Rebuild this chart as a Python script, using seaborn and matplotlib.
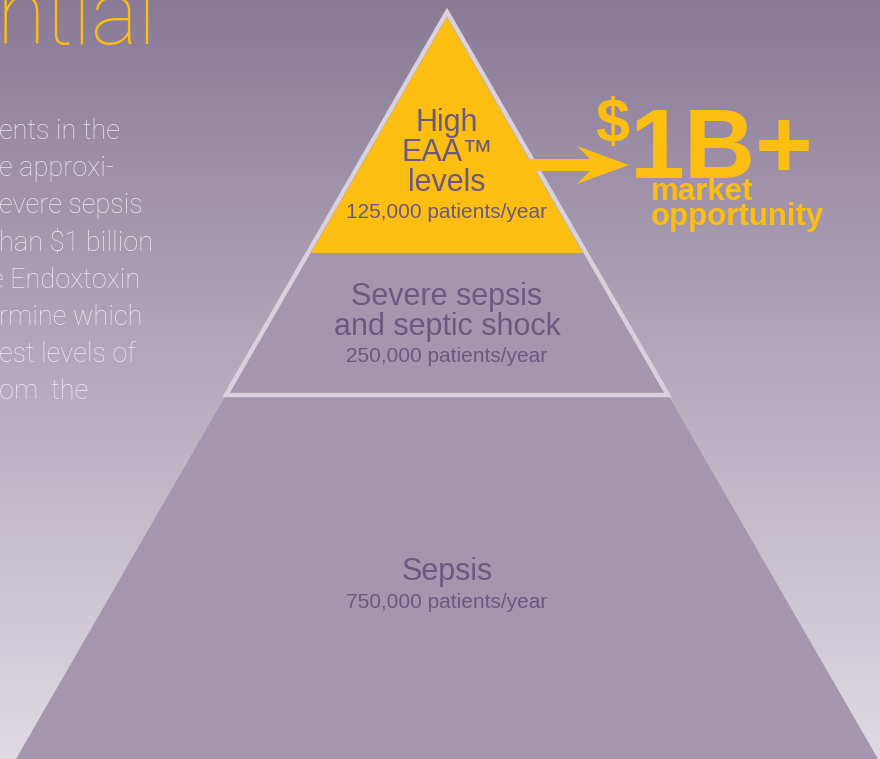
import numpy as np
import matplotlib
matplotlib.use("Agg")
import matplotlib.pyplot as plt
from matplotlib.colors import LinearSegmentedColormap
from matplotlib.patches import Polygon, FancyArrow
import seaborn as sns

# ---------------- data ----------------
tiers = ["High\nEAA\u2122\nlevels", "Severe sepsis\nand septic shock", "Sepsis"]
patients = [125000, 250000, 750000]
patient_labels = [f"{p:,} patients/year" for p in patients]
headline_currency = "$"
headline_value = "1B+"
headline_caption = ["market", "opportunity"]
title_fragment = "ntial"
body_lines = ["ents in the", "e approxi-", "evere sepsis", "han $1 billion",
              "e Endoxtoxin", "rmine which", "est levels of", "om  the"]

# ---------------- style ----------------
sns.set_theme(style="white")
plt.rcParams["font.family"] = ["Liberation Sans", "DejaVu Sans"]

YELLOW = "#FDBE12"
PURPLE_TXT = "#6a5a80"
PYR_FILL = "#a396ae"
OUTLINE = "#d9d1dd"
BODY_TXT = "#eee9f1"
LIGHT_FONT = ["Roboto", "Lato", "DejaVu Sans"]

W, H = 880, 759
fig = plt.figure(figsize=(W / 100, H / 100), dpi=100)
ax = fig.add_axes([0, 0, 1, 1])
ax.set_xlim(0, W)
ax.set_ylim(H, 0)
ax.axis("off")

# background gradient
cmap = LinearSegmentedColormap.from_list("bg", ["#8a7a96", "#b5abbe", "#dfdae3"])
grad = np.linspace(0, 1, 256).reshape(-1, 1)
ax.imshow(grad, extent=[0, W, H, 0], aspect="auto", cmap=cmap, zorder=0)

# pyramid layout (pixel space)
apex_x, apex_y = 447, 12
slope = 0.577           # half-width per pixel of height
tier_bottoms = [253, 395, H]   # layout: bottom edge of each tier


def half_width(y):
    return (y - apex_y) * slope


# big pyramid body (sepsis)
hb = half_width(tier_bottoms[-1])
ax.add_patch(Polygon([(apex_x, apex_y), (apex_x - hb, tier_bottoms[-1]),
                      (apex_x + hb, tier_bottoms[-1])],
                     closed=True, facecolor=PYR_FILL, edgecolor="none", zorder=1))

# top tier (yellow)
ht = half_width(tier_bottoms[0]) - 3
ax.add_patch(Polygon([(apex_x, apex_y + 5), (apex_x - ht, tier_bottoms[0]),
                      (apex_x + ht, tier_bottoms[0])],
                     closed=True, facecolor=YELLOW, edgecolor="none", zorder=2))

# outline around top two tiers
hm = half_width(tier_bottoms[1])
ax.add_patch(Polygon([(apex_x, apex_y), (apex_x - hm, tier_bottoms[1]),
                      (apex_x + hm, tier_bottoms[1])],
                     closed=True, facecolor="none", edgecolor=OUTLINE,
                     linewidth=3.2, joinstyle="miter", zorder=3))

# arrow
ax.add_patch(FancyArrow(527, 165, 102, 0, width=12, head_width=38, head_length=52,
                        overhang=0.25, length_includes_head=True,
                        facecolor=YELLOW, edgecolor="none", zorder=4))

# tier labels
label_y = [153, 312, 572]
sub_y = [212, 356, 603]
for name, sub, ly, sy in zip(tiers, patient_labels, label_y, sub_y):
    ax.text(apex_x, ly, name, ha="center", va="center", fontsize=22,
            color=PURPLE_TXT, linespacing=1.0, zorder=5)
    ax.text(apex_x, sy, sub, ha="center", va="center", fontsize=15,
            color=PURPLE_TXT, zorder=5)

# headline
ax.text(595, 141, headline_currency, ha="left", va="baseline", fontsize=44,
        fontweight="bold", color=YELLOW, zorder=5)
ax.text(630, 178, headline_value, ha="left", va="baseline", fontsize=71,
        fontweight="bold", color=YELLOW, zorder=5)
for i, cap in enumerate(headline_caption):
    ax.text(651, 200 + 25 * i, cap, ha="left", va="baseline", fontsize=22.5,
            fontweight="bold", color=YELLOW, zorder=5)

# left title fragment and body text
ax.text(-3, 44, title_fragment, ha="left", va="baseline", fontsize=64,
        fontweight="light", color=YELLOW, family=LIGHT_FONT, zorder=5)
for i, line in enumerate(body_lines):
    x0 = -10 if line.startswith("e Endox") else -1
    ax.text(x0, 139 + 37.2 * i, line, ha="left", va="baseline", fontsize=19.5,
            fontweight="light", color=BODY_TXT, family=LIGHT_FONT, zorder=5)

fig.savefig("out.png", dpi=100)
